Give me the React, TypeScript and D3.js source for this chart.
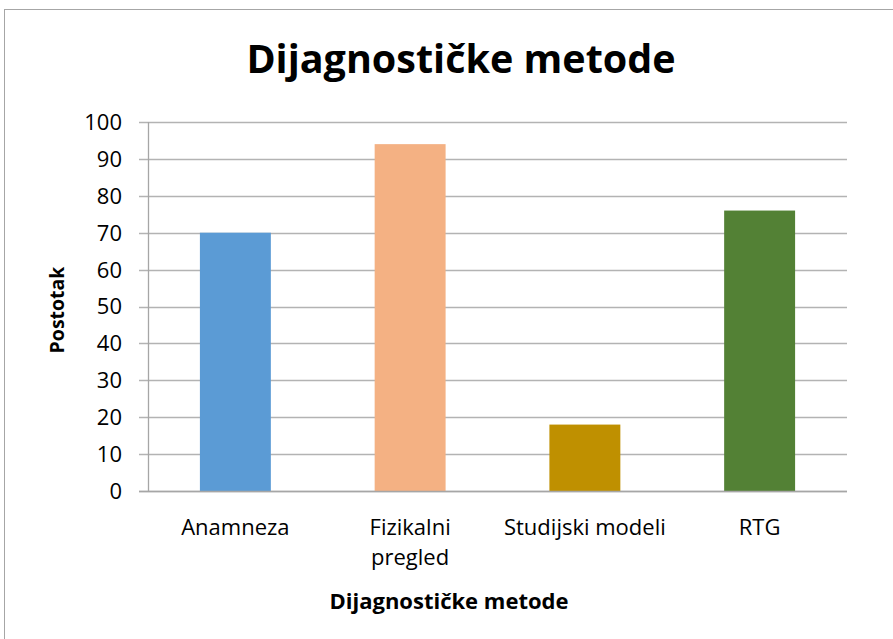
import * as d3 from "d3";
import { useEffect, useRef } from "react";

const categories = ["Anamneza", "Fizikalni pregled", "Studijski modeli", "RTG"];
const categoryLines = [["Anamneza"], ["Fizikalni", "pregled"], ["Studijski modeli"], ["RTG"]];
const values = [70, 94, 18, 76];
const barColors = ["#5b9bd5", "#f4b183", "#bf9000", "#538135"];
const yTicks = [0, 10, 20, 30, 40, 50, 60, 70, 80, 90, 100];

const width = 893;
const height = 639;
const margin = { top: 122, right: 46, bottom: 148, left: 148 };
const font = "'Open Sans', 'Noto Sans', sans-serif";

export default function App() {
  const svgRef = useRef<SVGSVGElement | null>(null);

  useEffect(() => {
    document.body.style.margin = "0";
    if (!svgRef.current) {
      return;
    }
    const svg = d3.select(svgRef.current);
    svg.selectAll("*").remove();

    const innerWidth = width - margin.left - margin.right;
    const innerHeight = height - margin.top - margin.bottom;

    const x = d3.scaleBand<string>().domain(categories).range([0, innerWidth]).paddingInner(0.594).paddingOuter(0.297);
    const y = d3.scaleLinear().domain([0, 100]).range([innerHeight, 0]);

    // chart area frame (runs off the right and bottom edges)
    svg
      .append("rect")
      .attr("x", 4.5)
      .attr("y", 9.5)
      .attr("width", 1000)
      .attr("height", 1000)
      .attr("fill", "#fff")
      .attr("stroke", "#a6a6a6")
      .attr("stroke-width", 1);

    svg
      .append("text")
      .attr("x", 461)
      .attr("y", 73)
      .attr("text-anchor", "middle")
      .attr("font-family", font)
      .attr("font-weight", "bold")
      .attr("font-size", 39.5)
      .attr("fill", "#000")
      .text("Dijagnostičke metode");

    const chart = svg.append("g").attr("transform", `translate(${margin.left}, ${margin.top})`);

    chart
      .append("g")
      .selectAll("line")
      .data(yTicks)
      .join("line")
      .attr("x1", -9)
      .attr("x2", innerWidth)
      .attr("y1", (t) => Math.round(y(t)) + 0.5)
      .attr("y2", (t) => Math.round(y(t)) + 0.5)
      .attr("stroke", "#b3b3b3")
      .attr("stroke-width", 1.3);

    chart
      .append("g")
      .selectAll("text")
      .data(yTicks)
      .join("text")
      .attr("x", -26)
      .attr("y", (t) => y(t))
      .attr("dy", "0.36em")
      .attr("text-anchor", "end")
      .attr("font-family", font)
      .attr("font-size", 22)
      .attr("fill", "#000")
      .text((t) => `${t}`);

    chart
      .append("g")
      .selectAll("rect")
      .data(values)
      .join("rect")
      .attr("x", (_v, i) => x(categories[i]) ?? 0)
      .attr("y", (v) => y(v))
      .attr("width", x.bandwidth())
      .attr("height", (v) => innerHeight - y(v))
      .attr("fill", (_v, i) => barColors[i]);

    chart
      .append("line")
      .attr("x1", 0.5)
      .attr("x2", 0.5)
      .attr("y1", 0)
      .attr("y2", innerHeight)
      .attr("stroke", "#a6a6a6")
      .attr("stroke-width", 1.3);

    chart
      .append("line")
      .attr("x1", -9)
      .attr("x2", innerWidth)
      .attr("y1", innerHeight + 0.5)
      .attr("y2", innerHeight + 0.5)
      .attr("stroke", "#a6a6a6")
      .attr("stroke-width", 1.3);

    const labels = chart
      .append("g")
      .selectAll("text")
      .data(categories)
      .join("text")
      .attr("x", (c) => (x(c) ?? 0) + x.bandwidth() / 2)
      .attr("y", innerHeight + 44)
      .attr("text-anchor", "middle")
      .attr("font-family", font)
      .attr("font-size", 22)
      .attr("fill", "#000");

    labels
      .selectAll("tspan")
      .data((_c, i) => categoryLines[i])
      .join("tspan")
      .attr("x", function () {
        return (this.parentNode as SVGTextElement).getAttribute("x");
      })
      .attr("dy", (_l, j) => (j === 0 ? 0 : 30))
      .text((l) => l);

    svg
      .append("text")
      .attr("x", 449)
      .attr("y", 609)
      .attr("text-anchor", "middle")
      .attr("font-family", font)
      .attr("font-weight", "bold")
      .attr("font-size", 22)
      .attr("fill", "#000")
      .text("Dijagnostičke metode");

    svg
      .append("text")
      .attr("transform", "translate(64, 310) rotate(-90)")
      .attr("text-anchor", "middle")
      .attr("font-family", font)
      .attr("font-weight", "bold")
      .attr("font-size", 19.5)
      .attr("fill", "#000")
      .text("Postotak");
  }, []);

  return <svg ref={svgRef} width={width} height={height} style={{ display: "block" }} />;
}
